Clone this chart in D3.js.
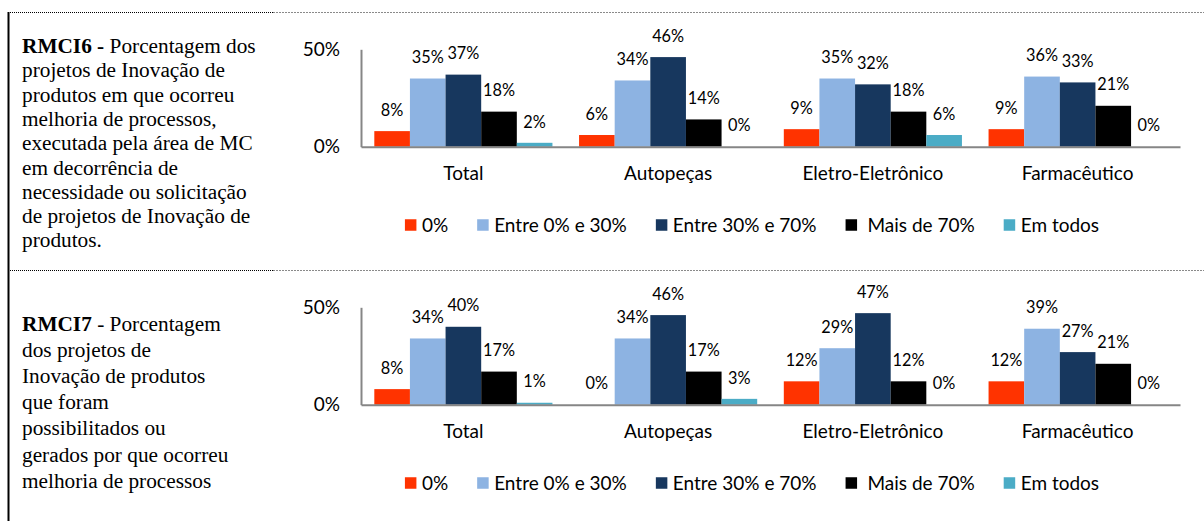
<!DOCTYPE html>
<html>
<head>
<meta charset="utf-8">
<script src="https://cdn.jsdelivr.net/npm/d3@7"></script>
<style>
  html, body { margin: 0; padding: 0; background: #ffffff; }
  svg { display: block; }
  .chart-text { font-family: Lato, "Open Sans", sans-serif; fill: #000; }
  .desc { font-family: "Liberation Serif", "Times New Roman", serif; font-size: 21.3px; fill: #000; }
</style>
</head>
<body>
<svg id="page" width="1204" height="521"></svg>
<script>
// Industry groups shown on the x axis
const categories = ["Total", "Autopeças", "Eletro-Eletrônico", "Farmacêutico"];

// Answer ranges (legend entries)
const seriesNames = ["0%", "Entre 0% e 30%", "Entre 30% e 70%", " Mais de 70%", "Em todos"];
const seriesColors = ["#ff3300", "#8db3e2", "#17375e", "#000000", "#4bacc6"];

// RMCI6 – share of projects per range, one row per category
const rmci6Values = [
  [8, 35, 37, 18, 2],
  [6, 34, 46, 14, 0],
  [9, 35, 32, 18, 6],
  [9, 36, 33, 21, 0]
];

// RMCI7 – share of projects per range, one row per category
const rmci7Values = [
  [8, 34, 40, 17, 1],
  [0, 34, 46, 17, 3],
  [12, 29, 47, 12, 0],
  [12, 39, 27, 21, 0]
];

const yTicks = [0, 50];

// Indicator descriptions (left column), line by line
const rmci6Lines = [
  [["RMCI6 -", true], [" Porcentagem dos", false]],
  [["projetos de Inovação de", false]],
  [["produtos em que ocorreu", false]],
  [["melhoria de processos,", false]],
  [["executada pela área de MC", false]],
  [["em decorrência de", false]],
  [["necessidade ou solicitação", false]],
  [["de projetos de Inovação de", false]],
  [["produtos.", false]]
];
const rmci7Lines = [
  [["RMCI7", true], [" - Porcentagem", false]],
  [["dos projetos de", false]],
  [["Inovação de produtos", false]],
  [["que foram", false]],
  [["possibilitados ou", false]],
  [["gerados por que ocorreu", false]],
  [["melhoria de processos", false]]
];

const svg = d3.select("#page");
const rowHeight = 258;
const rowTop = 12;
const leftColRight = 273;

// ---- table frame ----
const frame = svg.append("g");
[rowTop, rowTop + rowHeight].forEach(yy => {
  frame.append("line")
    .attr("x1", 8).attr("x2", leftColRight).attr("y1", yy + 0.5).attr("y2", yy + 0.5)
    .attr("stroke", "#000").attr("stroke-width", 1).attr("stroke-dasharray", "1,1");
  frame.append("line")
    .attr("x1", leftColRight).attr("x2", 1204).attr("y1", yy + 0.5).attr("y2", yy + 0.5)
    .attr("stroke", "#8a8a8a").attr("stroke-width", 1).attr("stroke-dasharray", "2,1");
});
frame.append("line")
  .attr("x1", 8.5).attr("x2", 8.5).attr("y1", rowTop).attr("y2", 521)
  .attr("stroke", "#000").attr("stroke-width", 2);

// ---- description text ----
function drawDescription(lines, firstBaseline, lineStep) {
  const t = svg.append("text").attr("class", "desc").attr("xml:space", "preserve");
  lines.forEach((parts, i) => {
    parts.forEach((p, j) => {
      const span = t.append("tspan").text(p[0]).style("white-space", "pre");
      if (j === 0) span.attr("x", 22).attr("y", firstBaseline + i * lineStep);
      if (p[1]) span.attr("font-weight", "bold");
    });
  });
}
drawDescription(rmci6Lines, 53, 24.3);
drawDescription(rmci7Lines, 331, 26.1);

// ---- grouped bar charts ----
const x0 = d3.scaleBand().domain(categories).range([361, 1180])
  .paddingInner(0.13).paddingOuter(0.065);
const x1 = d3.scaleBand().domain(d3.range(seriesNames.length)).range([0, x0.bandwidth()]);
const y = d3.scaleLinear().domain([0, 50]).range([146.7, 49.3]);

function drawChart(values, offsetY) {
  const g = svg.append("g").attr("transform", `translate(0,${offsetY})`);

  const groups = g.selectAll("g.cat").data(values).join("g")
    .attr("class", "cat")
    .attr("transform", (d, i) => `translate(${x0(categories[i])},0)`);

  groups.selectAll("rect").data(d => d).join("rect")
    .attr("x", (d, i) => x1(i))
    .attr("y", d => y(d))
    .attr("width", x1.bandwidth())
    .attr("height", d => y(0) - y(d))
    .attr("fill", (d, i) => seriesColors[i]);

  groups.selectAll("text.val").data(d => d).join("text")
    .attr("class", "val chart-text")
    .attr("x", (d, i) => x1(i) + x1.bandwidth() / 2)
    .attr("y", d => y(d) - 21)
    .attr("dy", "0.35em")
    .attr("text-anchor", "middle")
    .style("font-size", "16.3px")
    .text(d => d + "%");

  // value axis
  const yAxis = g.append("g").attr("transform", `translate(${x0.range()[0]},0)`)
    .call(d3.axisLeft(y).tickValues(yTicks).tickSize(0).tickPadding(21)
      .tickFormat(d => d + "%"));
  yAxis.select(".domain").attr("stroke", "#868686").attr("stroke-width", 2);
  yAxis.selectAll("text").attr("class", "chart-text").style("font-size", "19px")
    .attr("font-family", null);

  // category axis
  const xAxis = g.append("g").attr("transform", `translate(0,${y(0)})`)
    .call(d3.axisBottom(x0).tickSize(0).tickSizeOuter(0).tickPadding(20));
  xAxis.select(".domain").attr("stroke", "#868686").attr("stroke-width", 2);
  xAxis.selectAll("text").attr("class", "chart-text").style("font-size", "19px")
    .attr("font-family", null);

  // legend
  const legend = g.append("g");
  const items = legend.selectAll("g").data(seriesNames).join("g");
  items.append("rect").attr("width", 11.5).attr("height", 11.5)
    .attr("y", -5.75).attr("fill", (d, i) => seriesColors[i]);
  items.append("text").attr("class", "chart-text").attr("x", 17)
    .attr("dy", "0.35em").style("font-size", "19px").style("white-space", "pre")
    .attr("xml:space", "preserve")
    .text(d => d);
  let cursor = 0;
  items.each(function () {
    const w = 17 + d3.select(this).select("text").node().getComputedTextLength();
    d3.select(this).attr("transform", `translate(${cursor},225)`);
    cursor += w + 29;
  });
  const total = cursor - 29;
  legend.attr("transform", `translate(${752 - total / 2},0)`);
}

drawChart(rmci6Values, 0);
drawChart(rmci7Values, rowHeight);
</script>
</body>
</html>
